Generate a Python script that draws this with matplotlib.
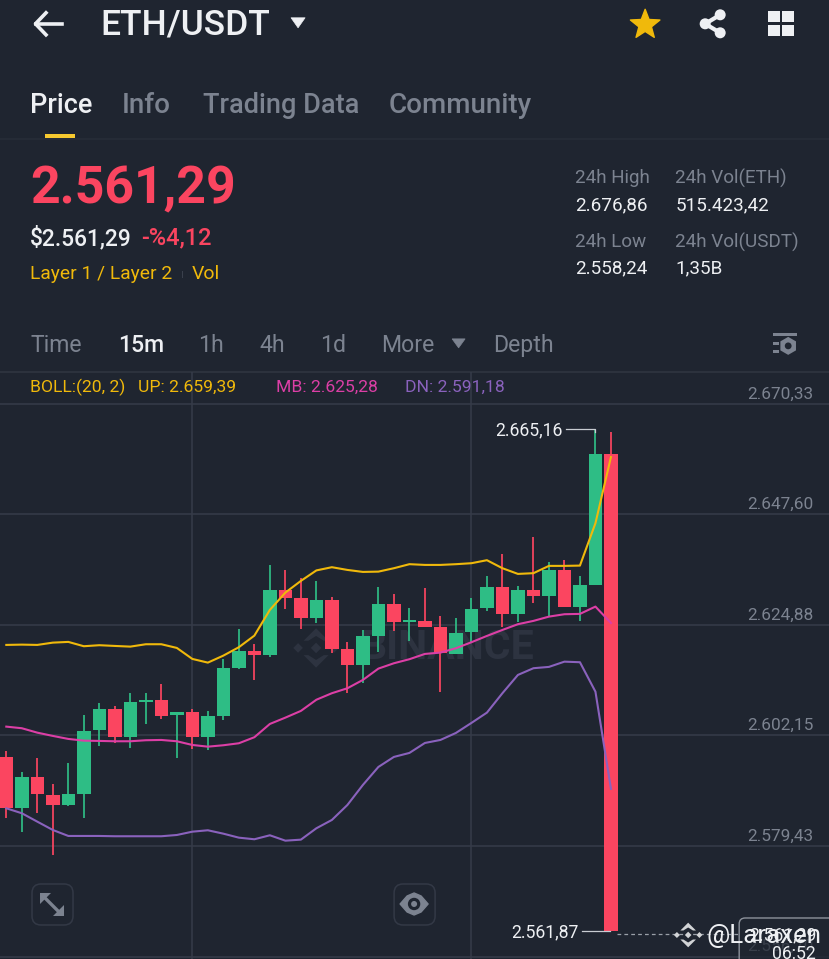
import matplotlib
matplotlib.use("Agg")
import matplotlib.pyplot as plt
from matplotlib.patches import Polygon, Rectangle, FancyBboxPatch, Circle
from matplotlib.colors import to_rgb
from matplotlib.transforms import ScaledTranslation
import numpy as np

opens = [2597.80,2587.31,2593.56,2589.98,2587.93,2590.13,2603.29,2607.67,2601.85,2609.11,2609.46,2606.31,2606.99,2601.85,2606.23,2616.10,2619.54,2618.71,2632.14,2630.44,2626.38,2630.02,2620.01,2616.66,2622.68,2629.20,2625.50,2625.77,2624.47,2618.98,2623.38,2628.32,2632.76,2627.15,2632.02,2630.85,2636.19,2628.52,2633.17,2659.99]
closes = [2587.31,2593.56,2590.06,2587.93,2590.06,2603.14,2607.67,2601.85,2608.98,2609.46,2606.23,2606.99,2601.85,2606.17,2615.98,2619.54,2618.71,2632.14,2630.50,2626.32,2630.02,2620.01,2616.66,2622.62,2629.20,2625.50,2625.85,2624.53,2619.06,2623.30,2628.23,2632.76,2627.15,2632.02,2630.91,2636.19,2628.52,2633.11,2659.99,2561.87]
highs = [2599.03,2594.71,2597.47,2592.12,2596.44,2606.37,2608.78,2608.22,2610.96,2610.96,2612.75,2606.99,2607.61,2607.20,2617.83,2624.12,2621.04,2637.22,2636.13,2634.49,2633.93,2630.58,2621.32,2623.85,2632.76,2631.26,2628.32,2632.55,2626.73,2626.38,2630.50,2635.02,2639.48,2632.90,2642.92,2637.78,2638.25,2635.02,2665.16,2664.64]
lows = [2585.13,2582.37,2586.16,2577.58,2587.72,2585.25,2600.06,2600.55,2599.52,2604.58,2605.55,2597.59,2599.32,2599.17,2605.28,2615.77,2613.63,2618.36,2628.17,2624.06,2625.36,2619.19,2610.84,2612.89,2619.39,2623.71,2621.65,2624.53,2611.04,2618.98,2621.12,2627.70,2624.41,2625.44,2629.47,2626.59,2628.52,2625.71,2633.17,2561.87]
boll_up = [2620.77,2620.83,2620.77,2621.24,2621.39,2620.50,2620.71,2620.56,2620.42,2620.91,2620.91,2620.15,2617.89,2617.13,2618.57,2620.30,2622.68,2627.97,2631.53,2633.93,2636.09,2636.75,2636.19,2635.78,2635.84,2636.54,2637.37,2637.22,2637.22,2637.37,2637.57,2638.19,2636.54,2635.37,2635.52,2637.02,2637.02,2637.08,2645.80,2659.39]
boll_mb = [2603.97,2603.64,2602.73,2602.06,2601.44,2601.09,2601.03,2600.96,2600.96,2601.17,2601.23,2600.96,2600.20,2599.85,2600.14,2600.55,2601.79,2604.52,2605.82,2607.20,2609.50,2610.84,2611.86,2613.57,2615.90,2617.00,2617.83,2618.92,2619.19,2620.09,2621.32,2622.62,2623.85,2625.03,2625.71,2626.59,2627.08,2627.15,2628.65,2625.28]
boll_dn = [2587.18,2586.16,2584.43,2582.72,2581.49,2581.49,2581.49,2581.43,2581.43,2581.43,2581.43,2581.69,2582.37,2582.66,2581.96,2581.14,2580.81,2581.63,2580.52,2580.73,2583.07,2584.78,2587.86,2591.98,2595.68,2597.74,2598.56,2600.61,2601.23,2602.67,2604.73,2606.85,2610.84,2614.60,2615.98,2616.25,2617.33,2617.21,2611.16,2591.18]
price_ticks = [2670.33,2647.60,2624.88,2602.15,2579.43,2556.70]
price_labels = ["2.670,33","2.647,60","2.624,88","2.602,15","2.579,43","2.556,70"]
vgrid_idx = [12,30]

BG='#1f2530'; GRID='#363c49'; GREEN='#2ebd85'; RED='#fb4560'; YEL='#f0b90b'
PINK='#dc3fa6'; PURP='#8a62bd'; GRAY='#7c8390'; WHITE='#eef0f3'
W,H=829,959
plt.rcParams['font.family']=['Roboto','DejaVu Sans']
fig=plt.figure(figsize=((W+0.2)/100,(H+0.2)/100),dpi=100,facecolor=BG)

# pixel overlay below chart (watermark, separators)
bg=fig.add_axes([0,0,1,1],zorder=0); bg.set_xlim(0,W); bg.set_ylim(H,0); bg.axis('off')

# chart axes
top_px,bot_px=372,H
ax=fig.add_axes([0,0,1,(bot_px-top_px)/H],zorder=1); ax.patch.set_alpha(0)
per_px=(2670.33-2579.43)/(846-404)
ax.set_ylim(2670.33-(bot_px-404)*per_px, 2670.33+(404-top_px)*per_px)
ax.set_xlim(-6.3/15.5,(W-6.3)/15.5)
for s in ax.spines.values(): s.set_visible(False)
x=np.arange(len(opens))
ax.set_xticks(vgrid_idx); ax.set_xticklabels([]); ax.tick_params(axis='x',length=0)
ax.yaxis.tick_right()
ax.set_yticks(price_ticks); ax.set_yticklabels(price_labels)
ax.tick_params(axis='y',length=0,pad=-11.5,labelsize=12.4,labelcolor=GRAY)
off=ScaledTranslation(0,2.5/100,fig.dpi_scale_trans)
for l in ax.get_yticklabels():
    l.set_ha('right'); l.set_va('bottom'); l.set_transform(l.get_transform()+off)
ax.grid(True,color=GRID,lw=1.1); ax.set_axisbelow(True)
cols=[GREEN if c>=o else RED for o,c in zip(opens,closes)]
ax.vlines(x,lows,highs,colors=cols,lw=1.25,zorder=2)
ax.bar(x,np.abs(np.array(closes)-np.array(opens)),bottom=np.minimum(opens,closes),width=0.87,color=cols,zorder=3)
ax.plot(x,boll_up,color=YEL,lw=1.5,zorder=4)
ax.plot(x,boll_mb,color=PINK,lw=1.5,zorder=4)
ax.plot(x,boll_dn,color=PURP,lw=1.5,zorder=4)

# top overlay for UI
ui=fig.add_axes([0,0,1,1],zorder=2); ui.set_xlim(0,W); ui.set_ylim(H,0); ui.axis('off'); ui.patch.set_alpha(0)
def T(a,xp,yp,s,size,color,weight='normal',ha='left',**k):
    return a.text(xp,yp,s,fontsize=size,color=color,fontweight=weight,ha=ha,va='center',**k)

# header
ui.add_line(plt.Line2D([36,62],[24,24],color=WHITE,lw=2.6))
ui.add_line(plt.Line2D([46,35.5,46],[13,24,35],color=WHITE,lw=2.6))
T(ui,100,25,"ETH/USDT",25.5,WHITE,'medium')
ui.add_patch(Polygon([[291,18],[305,18],[298,28]],fc=WHITE,ec=WHITE,lw=0.5,joinstyle='round'))
ang=np.deg2rad(np.arange(10)*36-90); rad=np.where(np.arange(10)%2==0,15.5,6.6)
ui.add_patch(Polygon(np.c_[645+rad*np.cos(ang),25+rad*np.sin(ang)],fc=YEL,ec=YEL,lw=1,joinstyle='round'))
ui.add_line(plt.Line2D([720,705,720],[15,24,33],color=WHITE,lw=3))
for cx,cy,r in [(720,15,5.5),(705,24,5.5),(720,33,5.5)]:
    ui.add_patch(Circle((cx,cy),r,fc=WHITE,ec='none'))
for xx,yy in [(768,11),(782,11),(768,25),(782,25)]:
    ui.add_patch(Rectangle((xx,yy),11.5,11.5,fc=WHITE,ec='none'))

# tabs
T(ui,30,105,"Price",19.5,WHITE,'medium')
T(ui,122,105,"Info",20,GRAY,'medium')
T(ui,203,105,"Trading Data",19.5,GRAY,'medium')
T(ui,389,105,"Community",20,GRAY,'medium')
ui.add_patch(Rectangle((45,134),30,4,fc='#f7c92f',ec='none'))
bg.axhline(139,color='#282e39',lw=1.1)

# price block
T(ui,30,189,"2.561,29",37.3,RED,'bold')
T(ui,30,238,"$2.561,29",16.4,WHITE,'medium')
T(ui,141,238,"-%4,12",17,RED,'medium')
T(ui,30,274,"Layer 1 / Layer 2",13.9,YEL)
bg.add_patch(Rectangle((181.5,271),1,7,fc='#3a404c',ec='none'))
T(ui,192,274,"Vol",14,YEL)
for xp,yp,s,c in [(575,178,"24h High",GRAY),(675,178,"24h Vol(ETH)",GRAY),(575,205,"2.676,86",WHITE),(675,205,"515.423,42",WHITE),
                  (575,242,"24h Low",GRAY),(675,242,"24h Vol(USDT)",GRAY),(575,268,"2.558,24",WHITE),(675,268,"1,35B",WHITE)]:
    T(ui,xp,yp,s,13.6,c)

# interval row
for xp,s,c,w in [(30,"Time",GRAY,'normal'),(118,"15m",WHITE,'medium'),(198,"1h",GRAY,'normal'),(259,"4h",GRAY,'normal'),(320,"1d",GRAY,'normal'),(381,"More",GRAY,'normal'),(493,"Depth",GRAY,'normal')]:
    T(ui,xp,345,s,16.6,c,w)
ui.add_patch(Polygon([[452,339],[465,339],[458.5,348]],fc=GRAY,ec=GRAY,lw=0.5))
ui.add_patch(Rectangle((773,333),24,3,fc=GRAY,ec='none'))
ui.add_patch(Rectangle((773,342),6,3,fc=GRAY,ec='none'))
ui.add_patch(Rectangle((773,350),6,3,fc=GRAY,ec='none'))
hexa=np.deg2rad(np.arange(6)*60+30)
ui.add_patch(Polygon(np.c_[788+9*np.cos(hexa),346+9*np.sin(hexa)],fc=GRAY,ec='none'))
ui.add_patch(Circle((788,346),3.4,fc=BG,ec='none'))
bg.axhline(372,color='#303641',lw=1.1)

# BOLL legend
T(ui,30,387,"BOLL:(20, 2)",12.6,YEL)
T(ui,138,387,"UP: 2.659,39",12.6,YEL)
T(ui,276,387,"MB: 2.625,28",12.6,PINK)
T(ui,405,387,"DN: 2.591,18",12.6,PURP)

# watermark
def logo(a,cx,cy,s,color,z=1):
    r=0.22
    a.add_patch(Polygon([[cx,cy-r*s],[cx+r*s,cy],[cx,cy+r*s],[cx-r*s,cy]],fc=color,ec='none',zorder=z))
    for dx in (-0.75,0.75):
        r=0.2
        a.add_patch(Polygon([[cx+dx*s,cy-r*s],[cx+dx*s+r*s,cy],[cx+dx*s,cy+r*s],[cx+dx*s-r*s,cy]],fc=color,ec='none',zorder=z))
    for sg in (-1,1):
        a.add_patch(Polygon([[cx-0.52*s,cy+sg*0.3*s],[cx,cy+sg*0.82*s],[cx+0.52*s,cy+sg*0.3*s],[cx+0.32*s,cy+sg*0.3*s],
                             [cx,cy+sg*0.5*s],[cx-0.32*s,cy+sg*0.3*s]],fc=color,ec='none',zorder=z))
logo(bg,316,648,24,'#2d3340')
T(bg,360,648,"BINANCE",29.5,'#2d3340','bold')

# leader labels
T(ui,562,430,"2.665,16",12.7,WHITE,ha='right')
ui.add_line(plt.Line2D([566,595,595],[429,429,432],color='#c8ccd2',lw=0.9))
T(ui,578,932,"2.561,87",12.7,WHITE,ha='right')
ui.add_line(plt.Line2D([582,610],[931,931],color='#c8ccd2',lw=0.9))
ui.add_line(plt.Line2D([617,740],[934,934],color='#9aa0a8',lw=0.9,ls=(0,(3,2.5))))

# last price box + watermark
ui.add_patch(FancyBboxPatch((739,918),110,55,boxstyle="round,pad=0,rounding_size=6",fc=to_rgb(BG)+(0.72,),ec='#8d929b',lw=1))
T(ui,749,935,"2.561,29",12.7,WHITE)
T(ui,772,954,"06:52",12.7,WHITE)
logo(ui,688,935,15,'#d2d4d6',z=5)
T(ui,706,936,"@Laraxen",18.6,WHITE,zorder=6)

# bottom icons
for x0 in (32,394):
    ui.add_patch(FancyBboxPatch((x0,884),41,41,boxstyle="round,pad=0,rounding_size=9",fc=BG,ec='#333946',lw=1.1))
ui.add_line(plt.Line2D([44,60],[897,913],color=GRAY,lw=2.4))
ui.add_patch(Polygon([[40,893],[51,893],[40,904]],fc=GRAY,ec='none'))
ui.add_patch(Polygon([[64,916],[53,916],[64,905]],fc=GRAY,ec='none'))
ui.add_patch(Polygon([[400,904],[407,896],[414,893],[421,896],[428,904],[421,912],[414,915],[407,912]],fc=GRAY,ec=GRAY,lw=1,joinstyle='round'))
ui.add_patch(Circle((414,904),6.2,fc=BG,ec='none'))
ui.add_patch(Circle((414,904),3,fc=GRAY,ec='none'))

fig.savefig('out.png',dpi=100,facecolor=BG)
